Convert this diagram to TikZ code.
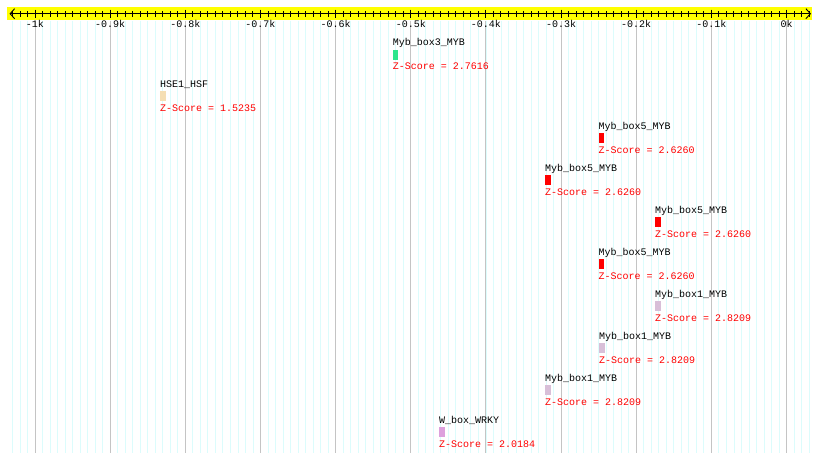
\documentclass[tikz,border=0pt]{standalone}
\usepackage{fontspec}
\setmonofont{Liberation Mono}
\usepackage{xcolor}
\definecolor{cBar}{HTML}{FFFF00}
\definecolor{cGridMinor}{HTML}{DCFCFC}
\definecolor{cGridMajor}{HTML}{C4C4C4}
\definecolor{cScore}{HTML}{FF0000}
\definecolor{cMybThree}{HTML}{2EE68C}
\definecolor{cHsf}{HTML}{F5DEB3}
\definecolor{cMybFive}{HTML}{FF0000}
\definecolor{cMybOne}{HTML}{D8BFD8}
\definecolor{cWrky}{HTML}{DDA0DD}
\usepackage{tikz}
\usetikzlibrary{positioning,arrows.meta}
\tikzset{
  mono/.style={font=\ttfamily\fontsize{10}{12}\selectfont},
  motif-name/.style={mono,anchor=base west,inner sep=0pt,text depth=0pt},
  motif-box/.style={draw=none,inner sep=0pt,minimum height=10pt},
  motif-score/.style={mono,inner sep=0pt,text=cScore},
  tick-label/.style={mono,anchor=base,inner sep=0pt},
  grid-minor/.style={draw=cGridMinor,line width=0.8pt},
  grid-major/.style={draw=cGridMajor,line width=0.9pt},
  tick-minor/.style={draw=black,line width=0.9pt},
  tick-major/.style={draw=black,line width=0.9pt},
  axis-line/.style={draw=black,line width=0.9pt,
    {Straight Barb[length=4.5pt,width=10pt]}-{Straight Barb[length=4.5pt,width=10pt]}},
}
% one hit: name, bar, score
\newcommand{\motif}[7]{%
  \node[motif-name] (#1-name) at (#2,#3) {#5};
  \node[motif-box,fill=#4,minimum width=#6pt,
    below=3.5pt of #1-name.south west,anchor=north west] (#1-box) {};
  \node[motif-score,below=9.5pt of #1-box.south west,anchor=base west]
    (#1-score) {Z-Score = #7};
}

\begin{document}
\begin{tikzpicture}[x=1pt,y=-1pt]
  \fill[white] (0,0) rectangle (820,463);
  \useasboundingbox (0,0) rectangle (820,463);
  % grid
  \foreach \i in {-103,...,3}
    \draw[grid-minor] ({786.5+7.515*\i},20.5) -- ({786.5+7.515*\i},453);
  \foreach \i in {-10,...,0}
    \draw[grid-major] ({786.5+75.15*\i},20.5) -- ({786.5+75.15*\i},453);
  % scale bar
  \fill[cBar] (7,7.3) rectangle (811.7,20.3);
  \coordinate (axis-w) at (9.5,13.7);
  \coordinate (axis-e) at (811,13.7);
  \draw[axis-line] (axis-w) -- (axis-e);
  \foreach \i in {-103,...,3}
    \draw[tick-minor] ({786.5+7.515*\i},11) -- ++(0,5.6);
  \foreach \i in {-10,...,0}
    \draw[tick-major] ({786.5+75.15*\i},9.5) -- ++(0,8.6);
  \foreach \i/\lab in {-10/-1k,-9/-0.9k,-8/-0.8k,-7/-0.7k,-6/-0.6k,-5/-0.5k,
      -4/-0.4k,-3/-0.3k,-2/-0.2k,-1/-0.1k,0/0k}
    \node[tick-label] (lab\i) at ({786.5+75.15*\i},27.8) {\lab};
  % hits
  \motif{mybThree}{392.7}{45.8}{cMybThree}{Myb\_box3\_MYB}{4.6}{2.7616}
  \motif{hse}{160}{87.5}{cHsf}{HSE1\_HSF}{6}{1.5235}
  \motif{mybFiveA}{598.3}{129.5}{cMybFive}{Myb\_box5\_MYB}{5}{2.6260}
  \motif{mybFiveB}{545}{171.5}{cMybFive}{Myb\_box5\_MYB}{5.5}{2.6260}
  \motif{mybFiveC}{655}{213.5}{cMybFive}{Myb\_box5\_MYB}{5.5}{2.6260}
  \motif{mybFiveD}{598.3}{255.5}{cMybFive}{Myb\_box5\_MYB}{5.5}{2.6260}
  \motif{mybOneA}{655}{297.5}{cMybOne}{Myb\_box1\_MYB}{5.7}{2.8209}
  \motif{mybOneB}{599}{339.5}{cMybOne}{Myb\_box1\_MYB}{5.7}{2.8209}
  \motif{mybOneC}{545}{381.5}{cMybOne}{Myb\_box1\_MYB}{5.7}{2.8209}
  \motif{wbox}{439}{423.5}{cWrky}{W\_box\_WRKY}{6}{2.0184}
\end{tikzpicture}
\end{document}
